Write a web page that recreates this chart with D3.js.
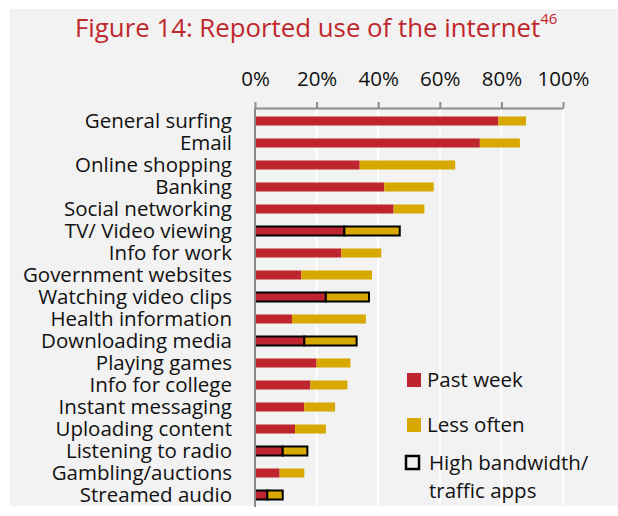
<!DOCTYPE html>
<html>
<head>
<meta charset="utf-8">
<script src="https://cdn.jsdelivr.net/npm/d3@7"></script>
<style>
  html, body { margin: 0; padding: 0; background: #ffffff; }
  svg { display: block; }
  text { font-family: "Open Sans", Lato, sans-serif; }
</style>
</head>
<body>
<svg id="chart" width="618" height="516"></svg>
<script>
// Survey activities, top to bottom
const categories = [
  "General surfing", "Email", "Online shopping", "Banking", "Social networking",
  "TV/ Video viewing", "Info for work", "Government websites", "Watching video clips",
  "Health information", "Downloading media", "Playing games", "Info for college",
  "Instant messaging", "Uploading content", "Listening to radio", "Gambling/auctions",
  "Streamed audio"
];
// Share reporting use in the past week (%)
const pastWeek = [79, 73, 34, 42, 45, 29, 28, 15, 23, 12, 16, 20, 18, 16, 13, 9, 8, 4];
// Additional share reporting less frequent use (%)
const lessOften = [9, 13, 31, 16, 10, 18, 13, 23, 14, 24, 17, 11, 12, 10, 10, 8, 8, 5];
// Activities flagged as high bandwidth / traffic apps
const highBandwidth = ["TV/ Video viewing", "Watching video clips", "Downloading media",
  "Listening to radio", "Streamed audio"];
const tickValues = [0, 20, 40, 60, 80, 100];

const RED = "#be252f";
const GOLD = "#d6a800";
const FONT = "20.5px";

const svg = d3.select("#chart");

// panel background
svg.append("rect").attr("x", 10).attr("y", 9).attr("width", 608).attr("height", 497)
  .attr("fill", "#f2f2f2");

const x = d3.scaleLinear().domain([0, 100]).range([255, 563]);
const y = d3.scaleBand().domain(categories).range([110, 506]).paddingInner(0.59).paddingOuter(0.295);

// title
const title = svg.append("text").attr("x", 75).attr("y", 37)
  .attr("fill", "#c0272d").style("font-size", "25.8px");
title.append("tspan").text("Figure 14: Reported use of the internet");
title.append("tspan").attr("dy", -13).style("font-size", "15px").text("46");

// vertical gridlines
svg.append("g").selectAll("line").data(tickValues.slice(1)).join("line")
  .attr("x1", d => x(d)).attr("x2", d => x(d))
  .attr("y1", 108).attr("y2", 506)
  .attr("stroke", "#ffffff").attr("stroke-width", 2);

// stacked bars
const rows = categories.map((c, i) => ({ c, pw: pastWeek[i], lo: lessOften[i], hb: highBandwidth.includes(c) }));
const bars = svg.append("g");
const bh = y.bandwidth();
rows.forEach(r => {
  const g = bars.append("g");
  const stroke = r.hb ? "#000" : "none";
  g.append("rect").attr("x", x(0)).attr("y", y(r.c))
    .attr("width", x(r.pw) - x(0)).attr("height", bh)
    .attr("fill", RED).attr("stroke", stroke).attr("stroke-width", r.hb ? 2 : 0);
  g.append("rect").attr("x", x(r.pw)).attr("y", y(r.c))
    .attr("width", x(r.pw + r.lo) - x(r.pw)).attr("height", bh)
    .attr("fill", GOLD).attr("stroke", stroke).attr("stroke-width", r.hb ? 2 : 0);
});

// top axis
const xAxis = d3.axisTop(x).tickValues(tickValues).tickFormat(d => d + "%").tickSize(6).tickSizeOuter(0);
const gx = svg.append("g").attr("transform", "translate(0,108)").call(xAxis);
gx.select(".domain").attr("stroke", "#8c8c8c").attr("stroke-width", 2);
gx.selectAll(".tick line").attr("stroke", "#8c8c8c").attr("stroke-width", 2);
gx.selectAll(".tick text").attr("y", -22).attr("fill", "#111")
  .style("font-size", FONT).style("font-family", "'Open Sans', sans-serif");

// left axis
const yAxis = d3.axisLeft(y).tickSize(0).tickPadding(23);
const gy = svg.append("g").attr("transform", "translate(255,0)").call(yAxis);
gy.select(".domain").attr("stroke", "#8c8c8c").attr("stroke-width", 2)
  .attr("d", "M0,108V507");
gy.selectAll(".tick text").attr("fill", "#111").attr("dy", "0.33em")
  .style("font-size", FONT).style("font-family", "'Open Sans', sans-serif");

// legend
const lg = svg.append("g");
lg.append("rect").attr("x", 407).attr("y", 373).attr("width", 14).attr("height", 14).attr("fill", RED);
lg.append("text").attr("x", 427).attr("y", 387).text("Past week").attr("fill", "#111").style("font-size", FONT);
lg.append("rect").attr("x", 407).attr("y", 418).attr("width", 14).attr("height", 14).attr("fill", GOLD);
lg.append("text").attr("x", 427).attr("y", 432).text("Less often").attr("fill", "#111").style("font-size", FONT);
lg.append("rect").attr("x", 406).attr("y", 456).attr("width", 13).attr("height", 13)
  .attr("fill", "none").attr("stroke", "#000").attr("stroke-width", 2.5);
lg.append("text").attr("x", 429).attr("y", 470).text("High bandwidth/").attr("fill", "#111").style("font-size", FONT);
lg.append("text").attr("x", 429).attr("y", 498).text("traffic apps").attr("fill", "#111").style("font-size", FONT);
</script>
</body>
</html>
